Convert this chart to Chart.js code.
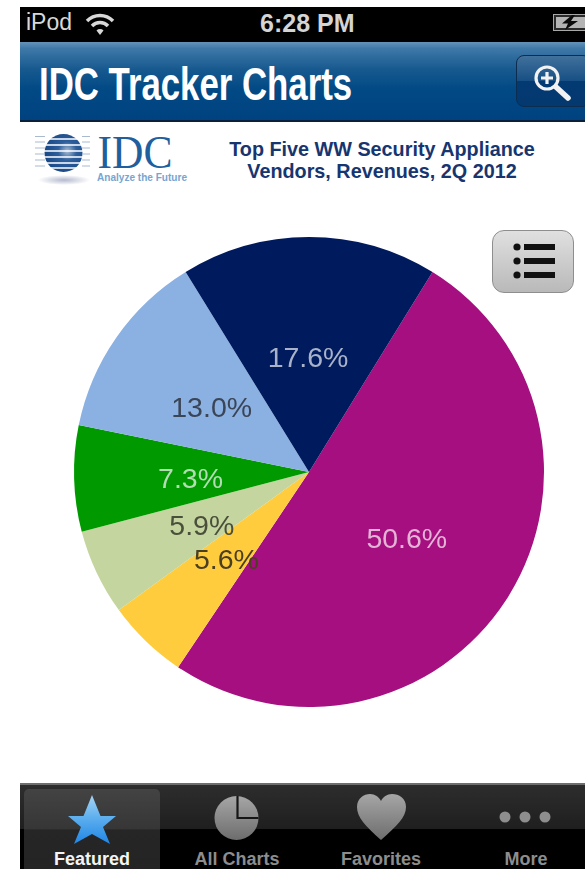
<!DOCTYPE html>
<html>
<head>
<meta charset="utf-8">
<script src="https://cdn.jsdelivr.net/npm/chart.js@4"></script>
<style>
html,body{margin:0;padding:0;background:#fff;width:585px;height:869px;overflow:hidden;font-family:"Liberation Sans",Arial,sans-serif}
.a{position:absolute;white-space:nowrap}
#status{left:20px;top:7px;width:565px;height:35px;background:#000}
#nav{left:20px;top:42px;width:565px;height:78px;border-bottom:2px solid #0a2038;background:linear-gradient(#6593b9 0,#3f79a8 8%,#17598f 35%,#024a85 60%,#004280 100%)}
#tabs{left:20px;top:783px;width:565px;height:86px;border-top:2px solid #6e6e6e;box-sizing:border-box;background:linear-gradient(#2d2d2d 0,#1f1f1f 52%,#000 53%,#000 100%)}
#hl{left:24px;top:789px;width:136px;height:80px;border-radius:5px 5px 0 0;background:linear-gradient(#434343 0,#363636 50%,#262626 51%,#242424 100%)}
.tab{top:849px;font-size:18px;font-weight:bold;color:#8d8d8d;transform:translateX(-50%)}
#canvasWrap{left:69px;top:232px;width:480px;height:480px}
</style>
</head>
<body>
<div class="a" id="status"></div>
<div class="a" style="left:26px;top:9px;font-size:23px;color:#d8d8d8">iPod</div>
<svg class="a" style="left:84px;top:12px" width="32" height="26" viewBox="0 0 32 26">
  <g fill="none" stroke="#d8d8d8" stroke-width="3.4">
    <path d="M3 9 A18 18 0 0 1 29 9"/><path d="M8 14 A11 11 0 0 1 24 14"/>
  </g>
  <path d="M12.5 18.5 A5 5 0 0 1 19.5 18.5 L16 23 Z" fill="#d8d8d8"/>
</svg>
<div class="a" style="left:260px;top:9px;font-size:25px;font-weight:bold;color:#d4d4d4">6:28 PM</div>
<svg class="a" style="left:553px;top:14px" width="32" height="18" viewBox="0 0 32 18">
  <rect x="0.5" y="0.5" width="32" height="16" fill="#2a2a2a" stroke="#a8a8a8"/>
  <rect x="3" y="3" width="29" height="11" fill="#b4b4b4"/>
  <path d="M19 1 L9 9.5 H15 L12 16 L25 7 H18 L22 1 Z" fill="#0c0c0c"/>
</svg>

<div class="a" id="nav"></div>
<div class="a" id="navTitle" style="left:39px;top:57px;font-size:47px;line-height:54px;font-weight:bold;color:#fff;transform-origin:0 50%;transform:scaleX(.74)">IDC Tracker Charts</div>
<div class="a" style="left:516px;top:55px;width:75px;height:52px;border-radius:8px;border:1px solid #0c2c50;box-sizing:border-box;background:linear-gradient(#41719c 0,#174f84 50%,#033a72 51%,#04396f 100%)"></div>
<svg class="a" style="left:530px;top:60px" width="42" height="42" viewBox="0 0 42 42">
  <circle cx="17" cy="18" r="11" fill="none" stroke="#f2f2f2" stroke-width="3.2"/>
  <path d="M11 18H23M17 12V24" stroke="#f2f2f2" stroke-width="3.2"/>
  <path d="M26 27L38 38" stroke="#f2f2f2" stroke-width="5.5" stroke-linecap="round"/>
</svg>

<svg class="a" style="left:34px;top:130px" width="160" height="60" viewBox="0 0 160 60">
  <defs>
    <radialGradient id="ball" cx=".6" cy=".45" r=".7"><stop offset="0" stop-color="#a9bcd4"/><stop offset=".35" stop-color="#2d5f9c"/><stop offset="1" stop-color="#12417e"/></radialGradient>
    <radialGradient id="shadow"><stop offset="0" stop-color="#b4b9cf"/><stop offset="1" stop-color="#fff"/></radialGradient>
  </defs>
  <ellipse cx="30" cy="50" rx="26" ry="5" fill="url(#shadow)"/>
  <circle cx="29.5" cy="23" r="19" fill="url(#ball)"/>
  <g stroke="#fff" stroke-width="1.3"><path d="M0 9H60M0 15H60M0 21H60M0 27H60M0 33H60M0 38H60"/></g>
  <g stroke="#a9b9cf" stroke-width="1.2"><path d="M1 6.5H11M48 6.5H56M1 12H11M48 12H56M1 18H11M48 18H56M1 24H11M48 24H56M1 30H11M48 30H56M1 36H11M48 36H56"/></g>
  <text x="63.5" y="38" font-family="Liberation Serif" font-size="46" fill="#1f5f9e" textLength="75" lengthAdjust="spacingAndGlyphs">IDC</text>
  <text x="63" y="51" font-family="Liberation Sans" font-size="11.5" font-weight="bold" fill="#78a5d0" textLength="90" lengthAdjust="spacingAndGlyphs">Analyze the Future</text>
</svg>
<div class="a" style="left:382px;top:138px;transform:translateX(-50%);text-align:center;font-size:19.8px;line-height:22px;font-weight:bold;color:#17356f">Top Five WW Security Appliance<br>Vendors, Revenues, 2Q 2012</div>

<div class="a" id="canvasWrap"><canvas id="pie" width="480" height="480"></canvas></div>

<div class="a" style="left:492px;top:230px;width:82px;height:63px;box-sizing:border-box;border:1px solid #8e8e8e;border-radius:12px;background:linear-gradient(#e0e0e0,#b9b9b9)"></div>
<svg class="a" style="left:510px;top:240px" width="46" height="42" viewBox="0 0 46 42">
  <g fill="#111"><circle cx="7" cy="7" r="3.6"/><circle cx="7" cy="21" r="3.6"/><circle cx="7" cy="35" r="3.6"/>
  <rect x="14" y="4" width="31" height="6"/><rect x="14" y="18" width="31" height="6"/><rect x="14" y="32" width="31" height="6"/></g>
</svg>

<div class="a" id="tabs"></div>
<div class="a" id="hl"></div>
<svg class="a" style="left:20px;top:790px" width="565" height="60" viewBox="0 0 565 60">
  <defs>
    <linearGradient id="star" x1="0" y1="0" x2="0" y2="1"><stop offset="0" stop-color="#a8d4f4"/><stop offset=".45" stop-color="#5fb0ee"/><stop offset="1" stop-color="#1f86e6"/></linearGradient>
    <linearGradient id="gr" x1="0" y1="0" x2="0" y2="1"><stop offset="0" stop-color="#a6a6a6"/><stop offset="1" stop-color="#6d6d6d"/></linearGradient>
  </defs>
  <path d="M72 5 L80.5 26 L96 26 L83 37 L90 54 L72 44 L54 54 L61 37 L48 26 L63.5 26 Z" fill="url(#star)"/>
  <circle cx="216.5" cy="28" r="22" fill="url(#gr)"/>
  <path d="M217.5 6 V28 H238.5" fill="none" stroke="#161616" stroke-width="2.2"/>
  <path d="M361 50 C345 36 337 27 337 17 C337 8 344 4 350 4 C355 4 359 7 361 11 C363 7 367 4 372 4 C379 4 386 8 386 17 C386 27 377 36 361 50 Z" fill="url(#gr)"/>
  <g fill="#8e8e8e"><circle cx="485" cy="27" r="5.5"/><circle cx="505" cy="27" r="5.5"/><circle cx="525" cy="27" r="5.5"/></g>
</svg>
<div class="a tab" style="left:92px;color:#f4f4f4">Featured</div>
<div class="a tab" style="left:237px">All Charts</div>
<div class="a tab" style="left:381px">Favorites</div>
<div class="a tab" style="left:526px">More</div>

<script>
const sliceLabels = ['50.6%', '5.6%', '5.9%', '7.3%', '13.0%', '17.6%'];
const shareValues = [50.6, 5.6, 5.9, 7.3, 13.0, 17.6];
const sliceColors = ['#a50f80', '#ffcc3d', '#c5d59f', '#009a00', '#8bb0e2', '#001a5e'];
const labelColors = ['#e3b4d6', '#4b3f22', '#4a4f3c', '#b4dcb4', '#3a4556', '#a9b2c8'];

const sliceLabelPlugin = {
  id: 'sliceLabels',
  afterDatasetsDraw(chart) {
    const ctx = chart.ctx;
    ctx.save();
    ctx.font = '28.5px "Liberation Sans", Arial, sans-serif';
    ctx.textAlign = 'center';
    ctx.textBaseline = 'middle';
    chart.getDatasetMeta(0).data.forEach((arc, i) => {
      const p = arc.tooltipPosition();
      ctx.fillStyle = labelColors[i];
      ctx.fillText(sliceLabels[i], p.x - 1, p.y + 4.5);
    });
    ctx.restore();
  }
};

new Chart(document.getElementById('pie'), {
  type: 'pie',
  data: {
    labels: sliceLabels,
    datasets: [{ data: shareValues, backgroundColor: sliceColors, borderWidth: 0, hoverOffset: 0 }]
  },
  options: {
    responsive: false,
    animation: false,
    rotation: 31.7,
    layout: { padding: 5 },
    plugins: { legend: { display: false }, tooltip: { enabled: false } }
  },
  plugins: [sliceLabelPlugin]
});
</script>
</body>
</html>
